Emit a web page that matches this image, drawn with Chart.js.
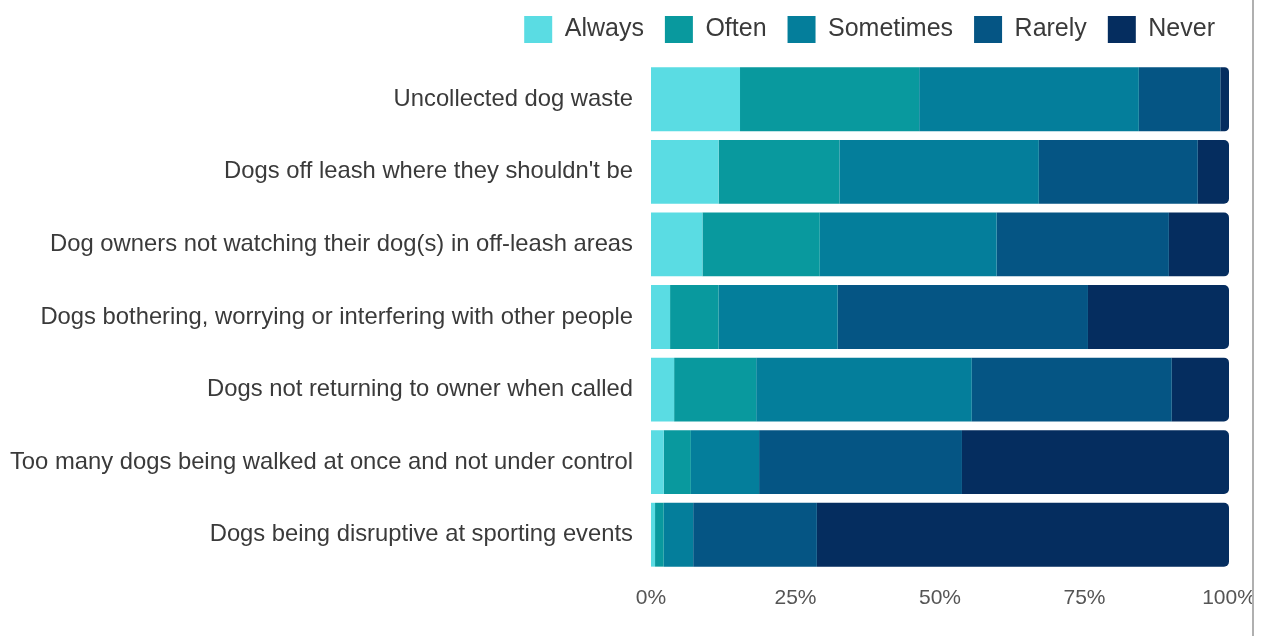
<!DOCTYPE html>
<html>
<head>
<meta charset="utf-8">
<script src="https://cdn.jsdelivr.net/npm/chart.js@4.4.1/dist/chart.umd.min.js"></script>
<style>
  html, body { margin: 0; padding: 0; background: #ffffff; }
  #wrap { position: relative; width: 1252px; height: 636px; border-right: 2px solid #b0b0b0; overflow: hidden; }
</style>
</head>
<body>
<div id="wrap"><canvas id="c" width="1252" height="636"></canvas></div>
<script>
const categories = [
  "Uncollected dog waste",
  "Dogs off leash where they shouldn't be",
  "Dog owners not watching their dog(s) in off-leash areas",
  "Dogs bothering, worrying or interfering with other people",
  "Dogs not returning to owner when called",
  "Too many dogs being walked at once and not under control",
  "Dogs being disruptive at sporting events"
];
const seriesNames = ["Always", "Often", "Sometimes", "Rarely", "Never"];
const always    = [15.4, 11.7,  8.9,  3.3,  4.0,  2.2,  0.7];
const often     = [31.0, 20.9, 20.3,  8.4, 14.2,  4.7,  1.5];
const sometimes = [38.0, 34.5, 30.6, 20.6, 37.3, 11.8,  5.1];
const rarely    = [14.1, 27.5, 29.8, 43.3, 34.6, 35.1, 21.4];
const never     = [ 1.5,  5.4, 10.4, 24.4,  9.9, 46.2, 71.3];
const xTicks = [0, 25, 50, 75, 100];
const colors = ["#5adce3", "#09999e", "#047e9b", "#055584", "#052d5f"];

const values = [always, often, sometimes, rarely, never];
const datasets = seriesNames.map((name, i) => ({
  label: name,
  data: values[i],
  backgroundColor: colors[i],
  borderWidth: 0,
  borderRadius: i === 4 ? {topRight: 5, bottomRight: 5, topLeft: 0, bottomLeft: 0} : 0,
  borderSkipped: false,
  barPercentage: 0.88,
  categoryPercentage: 1.0
}));

const FONT = "'Liberation Sans', Arial, sans-serif";

const legendShift = {
  id: 'legendShift',
  afterLayout(chart) {
    const lg = chart.legend;
    if (!lg) return;
    lg.top -= 10; lg.bottom -= 10;
    lg.left += 7; lg.right += 7;
  }
};

new Chart(document.getElementById('c'), {
  type: 'bar',
  data: { labels: categories, datasets },
  plugins: [legendShift],
  options: {
    indexAxis: 'y',
    responsive: false,
    animation: false,
    layout: { padding: { top: 5, right: 23, left: 0, bottom: 0 } },
    plugins: {
      legend: {
        position: 'top',
        align: 'end',
        labels: {
          boxWidth: 28,
          boxHeight: 27,
          padding: 21,
          color: '#3a3a3a',
          font: { family: FONT, size: 25 }
        }
      },
      tooltip: { enabled: false }
    },
    scales: {
      x: {
        stacked: true,
        min: 0, max: 100,
        afterBuildTicks: (s) => { s.ticks = xTicks.map(v => ({ value: v })); },
        grid: { display: false, drawTicks: false },
        border: { display: false },
        ticks: {
          padding: 15,
          color: '#555555',
          font: { family: FONT, size: 21 },
          maxRotation: 0,
          callback: (v) => v + '%'
        },
        afterFit: (s) => { s.height = 65; s.paddingRight = 0; s.paddingLeft = 0; }
      },
      y: {
        stacked: true,
        grid: { display: false, drawTicks: false },
        border: { display: false },
        ticks: {
          padding: 18,
          color: '#3a3a3a',
          font: { family: FONT, size: 23.8 }
        },
        afterFit: (s) => { s.width = 651; }
      }
    }
  }
});
</script>
</body>
</html>
